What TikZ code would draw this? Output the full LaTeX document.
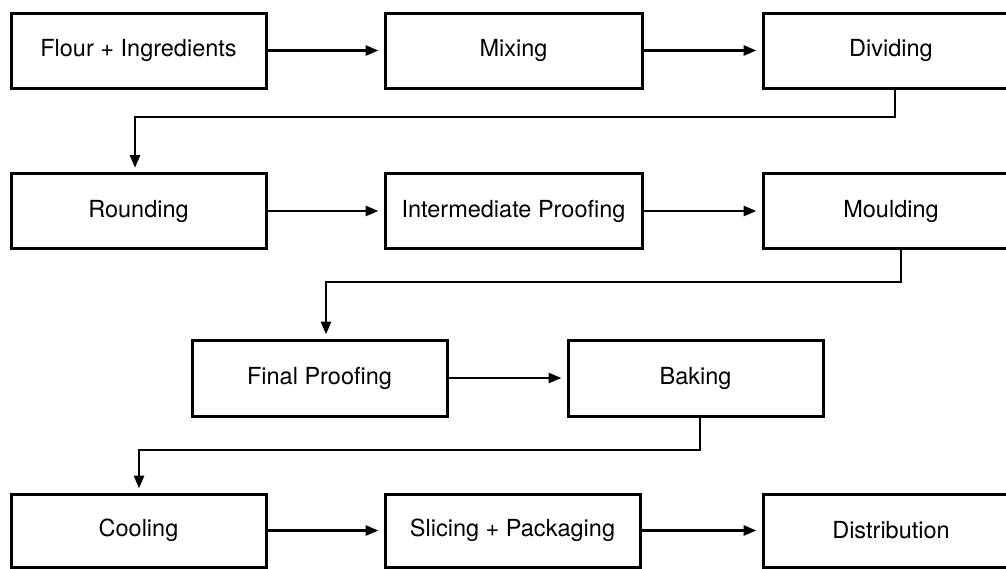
\documentclass[tikz,border=0pt]{standalone}
\usepackage{fontspec}
\setmainfont{TeX Gyre Heros}
\usetikzlibrary{arrows.meta}
\begin{document}
\begin{tikzpicture}[x=1pt,y=-1pt,
  stepbox/.style={draw=black, line width=3pt, minimum height=75pt, inner sep=0pt,
    font=\fontsize{23.5}{27}\selectfont},
  arr/.style={line width=2.8pt, -{Triangle[length=13pt,width=10pt]}, shorten >=5pt}]
\useasboundingbox (0,0) rectangle (1006,568);
\fill[white] (0,0) rectangle (1006,568);
\node[stepbox, minimum width=255pt] (n1) at (138.5,50.5) {Flour + Ingredients};
\node[stepbox, minimum width=257pt] (n2) at (513.5,50.5) {Mixing};
\node[stepbox, minimum width=256pt] (n3) at (891,50.5) {Dividing};
\node[stepbox, minimum width=255pt] (n4) at (138.5,211) {Rounding};
\node[stepbox, minimum width=257pt] (n5) at (513.5,211) {Intermediate Proofing};
\node[stepbox, minimum width=256pt] (n6) at (891,211) {Moulding};
\node[stepbox, minimum width=255pt, minimum height=76pt] (n7) at (319.5,378) {Final Proofing};
\node[stepbox, minimum width=255pt, minimum height=76pt] (n8) at (695.5,378) {Baking};
\node[stepbox, minimum width=255pt, minimum height=73pt] (n9) at (138.5,530.5) {Cooling};
\node[stepbox, minimum width=255pt, minimum height=73pt] (n10) at (512.5,530.5) {Slicing + Packaging};
\node[stepbox, minimum width=256pt, minimum height=73pt] (n11) at (891,530.5) {Distribution};
\draw[arr] (n1) -- (n2);
\draw[arr] (n2) -- (n3);
\draw[arr] (n4) -- (n5);
\draw[arr] (n5) -- (n6);
\draw[arr] (n7) -- (n8);
\draw[arr] (n9) -- (n10);
\draw[arr] (n10) -- (n11);
\coordinate (c1) at (895,117);
\coordinate (c2) at (901,282);
\coordinate (c3) at (700,450);
\draw[arr, shorten >=4pt] (n3.south -| c1) -- (c1) -| ([xshift=-3.5pt]n4.north);
\draw[arr, shorten >=4pt] (n6.south -| c2) -- (c2) -| ([xshift=6.5pt]n7.north);
\draw[arr, shorten >=4pt] (n8.south -| c3) -- (c3) -| ([xshift=0.5pt]n9.north);
\end{tikzpicture}
\end{document}
